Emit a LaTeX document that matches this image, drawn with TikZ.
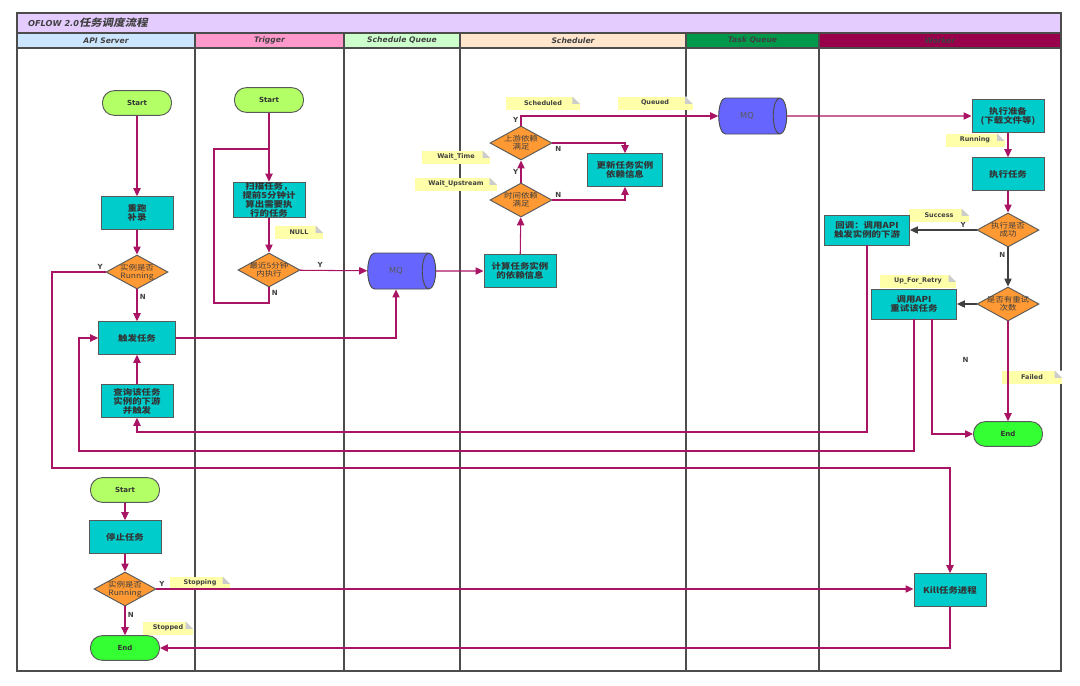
\documentclass[tikz,border=0pt]{standalone}
\usepackage{fontspec}
\setmainfont{DejaVu Sans}
\newfontfamily\cjk[FakeStretch=1.15]{Noto Sans CJK SC}
\newfontfamily\cjkit[FakeStretch=1.15,FakeSlant=0.2]{Noto Sans CJK SC}
\usetikzlibrary{shapes.geometric,arrows.meta,positioning}

\definecolor{titleC}{RGB}{229,204,255}
\definecolor{apiC}{RGB}{204,229,255}
\definecolor{trigC}{RGB}{255,153,204}
\definecolor{sqC}{RGB}{204,255,204}
\definecolor{schC}{RGB}{255,229,204}
\definecolor{tqC}{RGB}{0,153,76}
\definecolor{wkC}{RGB}{153,0,76}
\definecolor{startC}{RGB}{178,255,102}
\definecolor{endC}{RGB}{51,255,51}
\definecolor{boxC}{RGB}{0,204,204}
\definecolor{diaC}{RGB}{255,153,51}
\definecolor{mqC}{RGB}{102,102,255}
\definecolor{noteC}{RGB}{255,255,170}
\definecolor{lnC}{RGB}{170,20,100}

\begin{document}
\begin{tikzpicture}[x=0.3mm, y=-0.3mm,
    head/.style={font=\bfseries\itshape\fontsize{6.5}{7}\selectfont, text=black!75},
    term/.style={rectangle, rounded corners=3.5mm, draw=black!65, line width=0.8pt, minimum width=20.7mm, minimum height=7.4mm, font=\bfseries\fontsize{6}{7}\selectfont, text=black!80},
    box/.style={rectangle, draw=black!65, line width=0.8pt, fill=boxC, minimum width=21.6mm, minimum height=9.8mm, inner sep=0.5pt, align=center, font=\cjk\bfseries\fontsize{7}{7.6}\selectfont, text=black!80},
    dia/.style={diamond, aspect=2, draw=black!65, line width=0.8pt, fill=diaC, minimum width=18.6mm, minimum height=10.2mm, inner sep=-2pt, align=center, font=\cjk\fontsize{6.3}{6.6}\selectfont, text=black!75},
    mq/.style={cylinder, shape border rotate=0, aspect=0.9, draw=black!70, line width=0.8pt, fill=mqC, minimum width=10.8mm, minimum height=20.4mm, font=\fontsize{7}{8}\selectfont, text=black!65},
    note/.style={fill=noteC, minimum height=3.9mm, inner sep=1pt, font=\bfseries\fontsize{5.5}{6}\selectfont, text=black!75,
        path picture={\fill[white] (path picture bounding box.north east) -- ++(-2.2mm,0) -- ++(2.2mm,-2.2mm) -- cycle;
                      \fill[black!20] ([xshift=-2.2mm]path picture bounding box.north east) -- ++(0,-2.2mm) -- ++(2.2mm,0) -- cycle;}},
    yn/.style={font=\bfseries\fontsize{6}{7}\selectfont, text=black!75, inner sep=2pt},
    ln/.style={draw=lnC, line width=0.9pt},
    arr/.style={ln, -{Triangle[length=2.4mm,width=2.2mm]}},
    garr/.style={draw=black!75, line width=0.9pt, -{Triangle[length=2.4mm,width=2.2mm]}},
    lane/.style={draw=black!70, line width=1pt}]

    \useasboundingbox (0,0) rectangle (1080,685);

    % swimlanes
    \fill[titleC] (17,13) rectangle (1061,33);
    \node[anchor=west, font=\bfseries\itshape\fontsize{7}{8}\selectfont, text=black!75] (title) at (24,23) {OFLOW 2.0{\cjkit\fontsize{8.5}{9}\selectfont 任务调度流程}};
    \foreach \a/\b/\c/\t in {17/195/apiC/API Server, 195/344/trigC/Trigger, 344/460/sqC/Schedule Queue, 460/686/schC/Scheduler, 686/819/tqC/Task Queue, 819/1061/wkC/Worker}{
        \fill[\c] (\a,33) rectangle (\b,48);
        \node[head] (h\a) at ({(\a+\b)/2},40.5) {\t};
    }
    \draw[lane] (17,13) rectangle (1061,671);
    \draw[lane] (17,33) -- (1061,33);
    \draw[lane] (17,48) -- (1061,48);
    \foreach \x in {195,344,460,686,819}
        \draw[lane] (\x,33) -- (\x,671);

    % notes
    \node[note, minimum width=14.4mm] (nNull) at (299,232) {NULL};
    \node[note, minimum width=22mm] (nSched) at (543,103) {Scheduled};
    \node[note, minimum width=22.5mm] (nQueued) at (655,103) {Queued};
    \node[note, minimum width=20.4mm] (nWaitT) at (456,157) {Wait\_Time};
    \node[note, minimum width=24.6mm] (nWaitU) at (456,184) {Wait\_Upstream};
    \node[note, minimum width=17.7mm] (nRun) at (975,140) {Running};
    \node[note, minimum width=18mm] (nSucc) at (939,215) {Success};
    \node[note, minimum width=22.8mm] (nRetry) at (918,281) {Up\_For\_Retry};
    \node[note, minimum width=18mm] (nFail) at (1032,377) {Failed};
    \node[note, minimum width=18mm] (nStopping) at (200,583) {Stopping};
    \node[note, minimum width=15mm] (nStopped) at (168,628) {Stopped};

    % API Server
    \node[term, fill=startC] (s1) at (137,103) {Start};
    \node[box] (rerun) at (137,213) {重跑\\补录};
    \node[dia] (chk1) at (137,272) {实例是否\\Running};
    \node[box, minimum width=23mm] (fire) at (137,338) {触发任务};
    \node[box] (query) at (137,401) {查询该任务\\实例的下游\\并触发};
    \node[term, fill=startC] (s2) at (125,490) {Start};
    \node[box] (stop) at (125,537) {停止任务};
    \node[dia] (chk2) at (125,589) {实例是否\\Running};
    \node[term, fill=endC] (end2) at (125,648) {End};

    % Trigger
    \node[term, fill=startC] (s3) at (269,100) {Start};
    \node[box, minimum height=10.5mm] (scan) at (269,200) {扫描任务，\\提前5分钟计\\算出需要执\\行的任务};
    \node[dia] (recent) at (269,270) {最近5分钟\\内执行};

    % Schedule Queue, Scheduler, Task Queue
    \node[mq] (mq1) at (396,271) {MQ};
    \node[box] (calc) at (520,271) {计算任务实例\\的依赖信息};
    \node[dia] (timechk) at (521,200) {时间依赖\\满足};
    \node[dia] (upchk) at (521,143) {上游依赖\\满足};
    \node[box, minimum width=22.5mm] (update) at (625,170) {更新任务实例\\依赖信息};
    \node[mq] (mq2) at (747,116) {MQ};

    % Worker
    \node[box] (prep) at (1008,116) {执行准备\\(下载文件等)};
    \node[box] (exec) at (1008,174) {执行任务};
    \node[dia] (succ) at (1008,230) {执行是否\\成功};
    \node[box, minimum width=25.5mm, minimum height=9mm] (callback) at (867,230) {回调：调用API\\触发实例的下游};
    \node[dia] (retrychk) at (1008,304) {是否有重试\\次数};
    \node[box, minimum width=25.5mm, minimum height=9mm] (retry) at (914,304) {调用API\\重试该任务};
    \node[term, fill=endC] (end1) at (1008,434) {End};
    \node[box] (kill) at (950,590) {Kill任务进程};

    % connectors
    \draw[arr] (s1) -- (rerun);
    \draw[arr] (rerun) -- (chk1);
    \draw[arr] (chk1) -- node[yn, pos=0.25, right] {N} (fire);
    \draw[arr] (chk1.west) node[yn, above left] {Y} -| (52,468) -| (kill.north);
    \draw[arr] (query) -- (fire);
    \draw[arr] (fire.east) -| (mq1.south);
    \draw[arr] (callback.south) |- (137,432) -- (query.south);
    \draw[arr] (retry.south) |- (79,451) |- (fire.west);
    \draw[arr] ([xshift=5.4mm]retry.south) |- (end1.west);
    \draw[arr] (kill.south) |- (end2.east);
    \draw[arr] (s2) -- (stop);
    \draw[arr] (stop) -- (chk2);
    \draw[arr] (chk2) -- node[yn, pos=0.3, right] {N} (end2);
    \draw[arr] (chk2.east) node[yn, above right] {Y} -- (chk2.east -| kill.west);

    \draw[arr] (s3) -- (scan);
    \draw[ln] (recent.south) node[yn, below right] {N} -- (269,303) -- (214,303) -- (214,149) -- (269,149);
    \draw[arr] (scan) -- (recent);
    \draw[arr] (recent) -- node[yn, above, pos=0.3] {Y} (mq1);

    \draw[arr] (mq1) -- (calc);
    \draw[arr] (calc) -- (timechk);
    \draw[arr] (timechk) -- node[yn, left] {Y} (upchk);
    \draw[arr] (timechk.east) node[yn, above right] {N} -| (update.south);
    \draw[arr] (upchk.east) node[yn, below right] {N} -| (update.north);
    \draw[arr] (upchk.north) node[yn, above left] {Y} |- (mq2.west);
    \draw[arr] (mq2) -- (prep);

    \draw[arr] (prep) -- (exec);
    \draw[arr] (exec) -- (succ);
    \draw[garr] (succ) -- node[yn, above, pos=0.2] {Y} (callback);
    \draw[garr] (succ) -- node[yn, left, pos=0.2] {N} (retrychk);
    \draw[garr] (retrychk) -- (retry);
    \draw[arr] (retrychk) -- node[yn, pos=0.39, left=11mm] {N} (end1);
\end{tikzpicture}
\end{document}
